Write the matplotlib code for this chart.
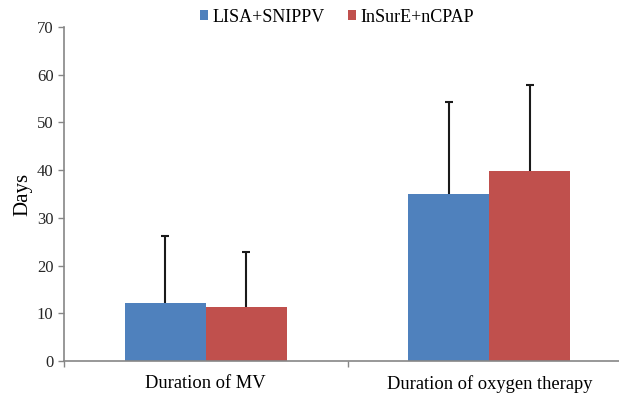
import matplotlib.pyplot as plt
import numpy as np

categories = ["Duration of MV", "Duration of oxygen therapy"]
groups = ["LISA+SNIPPV", "InSurE+nCPAP"]
means = {
    "LISA+SNIPPV": [12.1, 35.0],
    "InSurE+nCPAP": [11.4, 39.8],
}
sds = {
    "LISA+SNIPPV": [14.0, 19.3],
    "InSurE+nCPAP": [11.5, 18.1],
}
colors = {"LISA+SNIPPV": "#4F81BD", "InSurE+nCPAP": "#C0504D"}

plt.rcParams["font.family"] = ["Liberation Serif", "DejaVu Serif"]
axis_grey = "#868686"

fig = plt.figure(figsize=(6.19, 3.94), dpi=100)
# axes runs slightly past the right edge of the figure
ax = fig.add_axes([64 / 619, 33 / 394, 567 / 619, 334 / 394])

x = np.arange(len(categories))
width = 0.285
for i, g in enumerate(groups):
    offset = (i - 0.5) * width
    ax.bar(x + offset, means[g], width, color=colors[g], label=g, zorder=2)
    _, caps, _ = ax.errorbar(x + offset, means[g],
                             yerr=[np.zeros(len(categories)), sds[g]],
                             fmt="none", ecolor="#1a1a1a", elinewidth=1.5,
                             capsize=2.6, capthick=1.5, zorder=3)
    caps[0].set_visible(False)  # upper error only

ax.set_xlim(-0.5, len(categories) - 0.5)
ax.set_ylim(0, 70)
ax.set_yticks(range(0, 71, 10))
ax.set_xticks(x)
ax.set_xticklabels(categories, fontsize=13.3)
ax.set_xticks(np.arange(len(categories) + 1) - 0.5, minor=True)
ax.tick_params(axis="x", which="major", length=0, pad=10)
ax.tick_params(axis="x", which="minor", length=4, color=axis_grey, width=1)
ax.tick_params(axis="y", length=4, color=axis_grey, width=1, labelsize=12,
               labelcolor="#262626")
ax.set_ylabel("Days", fontsize=15, labelpad=3)

for s in ("top", "right"):
    ax.spines[s].set_visible(False)
for s in ("left", "bottom"):
    ax.spines[s].set_color(axis_grey)
    ax.spines[s].set_linewidth(1.2)

fig.legend(loc="center", bbox_to_anchor=(337 / 619, 1 - 17 / 394), ncol=2,
           frameon=False, fontsize=13, handlelength=0.45, handleheight=0.45,
           handletextpad=0.25, columnspacing=1.3)

fig.savefig("out.png", dpi=100)
